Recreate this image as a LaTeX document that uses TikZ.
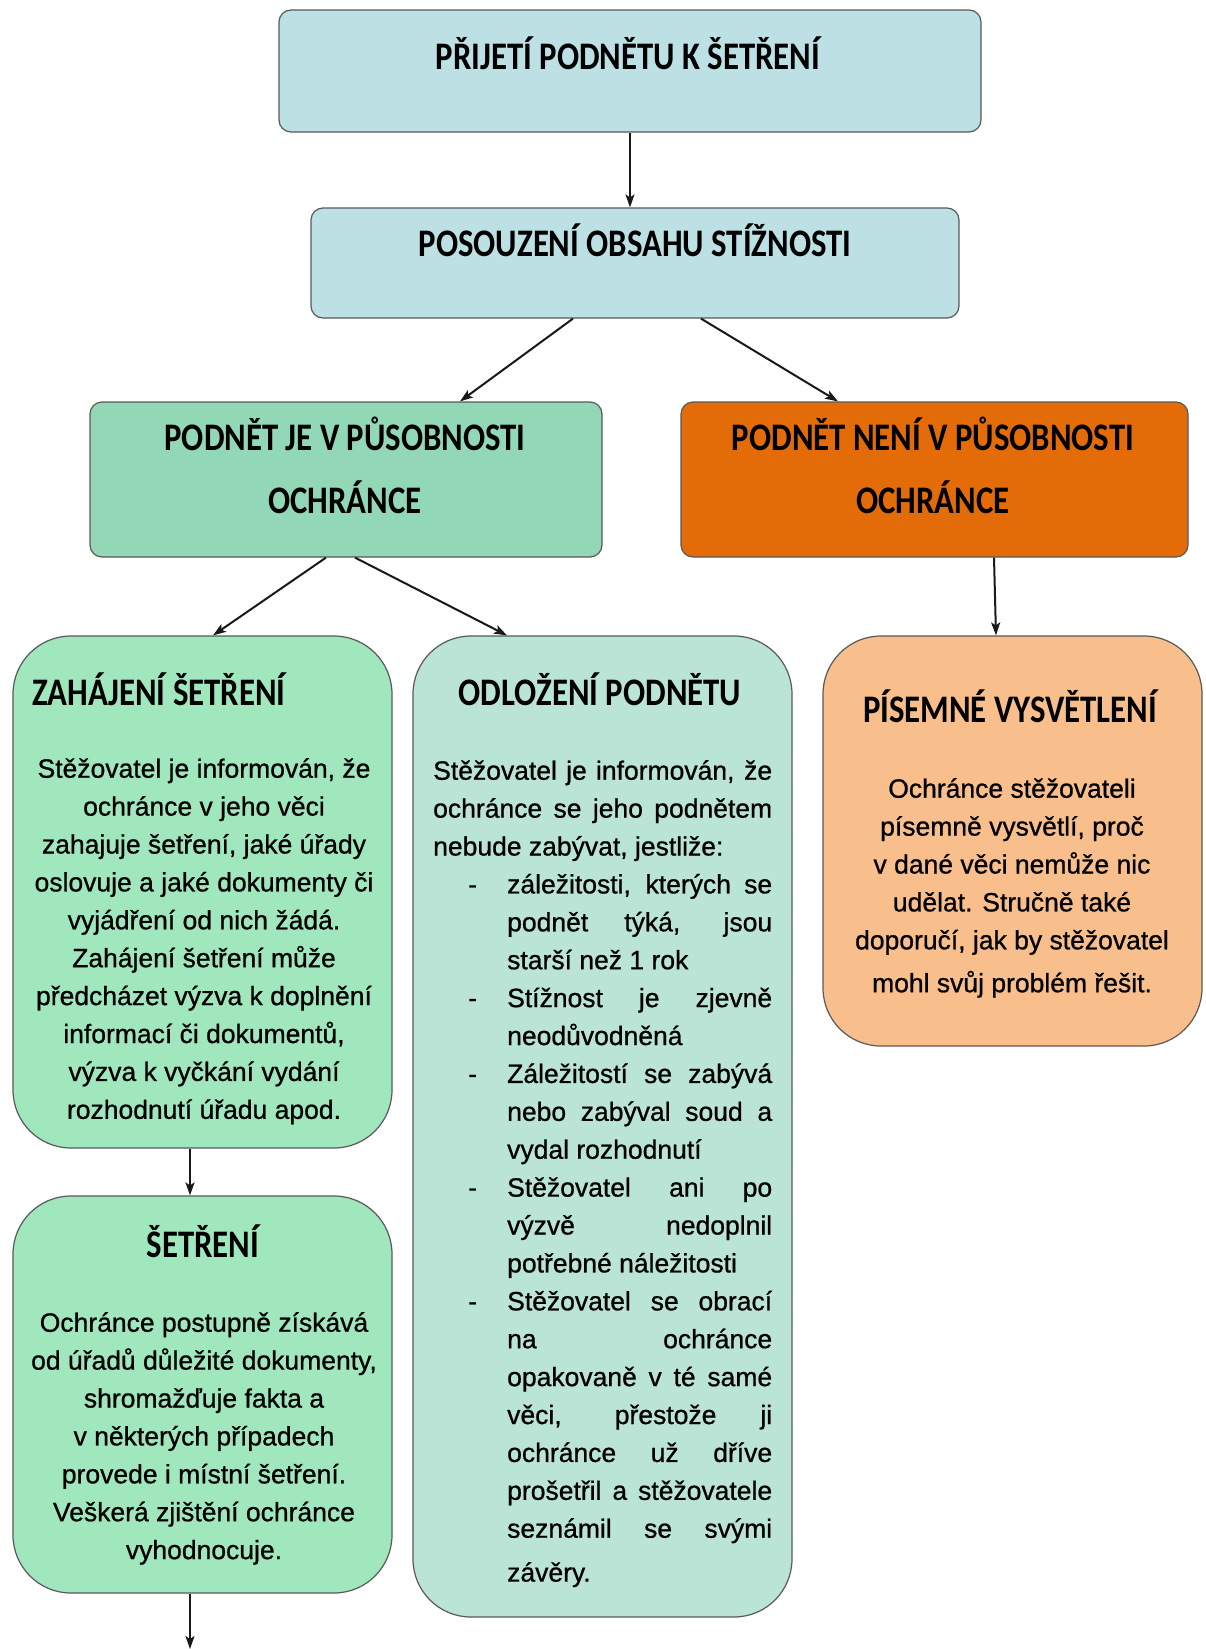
\documentclass[tikz,border=0pt]{standalone}
\usepackage{fontspec}
\usetikzlibrary{arrows.meta}
\setmainfont{Liberation Sans}
\newfontfamily\headfont{Carlito}[FakeStretch=0.84]
\newfontfamily\bodyfont{Liberation Sans}[FakeStretch=1.0,FakeBold=0.8]
\definecolor{cblue}{HTML}{BCE0E3}
\definecolor{cgreen}{HTML}{93D8B6}
\definecolor{corange}{HTML}{E36C09}
\definecolor{clgreen}{HTML}{A0E7BD}
\definecolor{cmint}{HTML}{BAE4D6}
\definecolor{cpeach}{HTML}{F8BE8C}
\newcommand\odjust[1]{\makebox[339pt][s]{#1}}
\newcommand\oditem[1]{\hspace*{35pt}\makebox[39pt][l]{-}\makebox[265pt][s]{#1}}
\newcommand\odcont[1]{\hspace*{74pt}\makebox[265pt][s]{#1}}
\newcommand\odend[1]{\hspace*{74pt}#1}
\begin{document}
\begin{tikzpicture}[x=1pt,y=-1pt,
  box/.style={draw=black!65, line width=1.2pt, rounded corners=12pt, inner sep=0pt},
  bigbox/.style={draw=black!65, line width=1.2pt, rounded corners=58pt, inner sep=0pt},
  head/.style={font=\headfont\bfseries\fontsize{39}{46}\selectfont, inner sep=0pt},
  subhead/.style={font=\headfont\bfseries\fontsize{39}{46}\selectfont, inner sep=0pt},
  body/.style={font=\bodyfont\fontsize{26.5}{37.9}\selectfont, inner sep=0pt, align=center},
  arr/.style={-{Stealth[length=13pt,width=9pt,inset=3pt]}, line width=2pt, black!90}
]
\useasboundingbox (0,0) rectangle (1205,1649);
\fill[white] (0,0) rectangle (1205,1649);

% boxes
\node[box, fill=cblue, minimum width=702pt, minimum height=122pt] (b1) at (630,71) {};
\node[box, fill=cblue, minimum width=648pt, minimum height=110pt] (b2) at (635,263) {};
\node[box, fill=cgreen, minimum width=512pt, minimum height=155pt] (b3) at (346,479.5) {};
\node[box, fill=corange, minimum width=507pt, minimum height=155pt] (b4) at (934.5,479.5) {};
\node[bigbox, fill=clgreen, minimum width=379pt, minimum height=512pt] (b5) at (202.5,892) {};
\node[bigbox, fill=cmint, minimum width=379pt, minimum height=981pt] (b6) at (602.5,1126.5) {};
\node[bigbox, fill=cpeach, minimum width=379pt, minimum height=410pt] (b7) at (1012.5,841) {};
\node[bigbox, fill=clgreen, minimum width=379pt, minimum height=397pt] (b8) at (202.5,1394.5) {};

% titles
\node[head, anchor=base] (t1) at (628,69) {PŘIJETÍ PODNĚTU K ŠETŘENÍ};
\node[head, anchor=base] (t2) at (635,256) {POSOUZENÍ OBSAHU STÍŽNOSTI};
\node[head, anchor=base] (t3a) at (345,450) {PODNĚT JE V PŮSOBNOSTI};
\node[head, anchor=base] (t3b) at (345,513) {OCHRÁNCE};
\node[head, anchor=base] (t4a) at (933,450) {PODNĚT NENÍ V PŮSOBNOSTI};
\node[head, anchor=base] (t4b) at (933,513) {OCHRÁNCE};
\node[subhead, anchor=base west] (t5) at (32,705) {ZAHÁJENÍ ŠETŘENÍ};
\node[subhead, anchor=base] (t6) at (600,705) {ODLOŽENÍ PODNĚTU};
\node[subhead, anchor=base] (t7) at (1010,722) {PÍSEMNÉ VYSVĚTLENÍ};
\node[subhead, anchor=base] (t8) at (203,1257) {ŠETŘENÍ};

% body texts
\node[body, anchor=north] (x5) at (204,758) {Stěžovatel je informován, že\\ochránce v jeho věci\\zahajuje šetření, jaké úřady\\oslovuje a jaké dokumenty či\\vyjádření od nich žádá.\\Zahájení šetření může\\předcházet výzva k doplnění\\informací či dokumentů,\\výzva k vyčkání vydání\\rozhodnutí úřadu apod.};

\node[body, align=left, anchor=north west] (x6) at (433,760) {\odjust{Stěžovatel je informován, že}\\
\odjust{ochránce se jeho podnětem}\\
nebude zabývat, jestliže:\\
\oditem{záležitosti, kterých se}\\
\odcont{podnět týká, jsou}\\
\odend{starší než 1 rok}\\
\oditem{Stížnost je zjevně}\\
\odend{neodůvodněná}\\
\oditem{Záležitostí se zabývá}\\
\odcont{nebo zabýval soud a}\\
\odend{vydal rozhodnutí}\\
\oditem{Stěžovatel ani po}\\
\odcont{výzvě nedoplnil}\\
\odend{potřebné náležitosti}\\
\oditem{Stěžovatel se obrací}\\
\odcont{na ochránce}\\
\odcont{opakovaně v té samé}\\
\odcont{věci, přestože ji}\\
\odcont{ochránce už dříve}\\
\odcont{prošetřil a stěžovatele}\\
\odcont{seznámil se svými}\\[6pt]
\odend{závěry.}};

\node[body, anchor=north] (x7) at (1012,778) {Ochránce stěžovateli\\písemně vysvětlí, proč\\v dané věci nemůže nic\\udělat. Stručně také\\doporučí, jak by stěžovatel\\[5pt]mohl svůj problém řešit.};

\node[body, anchor=north] (x8) at (204,1312) {Ochránce postupně získává\\od úřadů důležité dokumenty,\\shromažďuje fakta a\\v některých případech\\provede i místní šetření.\\Veškerá zjištění ochránce\\vyhodnocuje.};

% connectors
\draw[arr, line width=1.5pt] (b1.south) -- (b1.south |- b2.north);
\draw[arr] ([xshift=-62pt]b2.south) -- ([xshift=114pt]b3.north);
\draw[arr] ([xshift=66pt]b2.south) -- ([xshift=-96.5pt]b4.north);
\draw[arr] ([xshift=-20pt]b3.south) -- ([xshift=10.5pt]b5.north);
\draw[arr] ([xshift=9pt]b3.south) -- ([xshift=-95.5pt]b6.north);
\draw[arr] ([xshift=59.5pt]b4.south) -- ([xshift=-16.5pt]b7.north);
\draw[arr] ([xshift=-12.5pt]b5.south) -- ([xshift=-12.5pt]b8.north);
\coordinate (end) at (190,1649);
\draw[arr] ([xshift=-12.5pt]b8.south) -- (end);
\end{tikzpicture}
\end{document}
